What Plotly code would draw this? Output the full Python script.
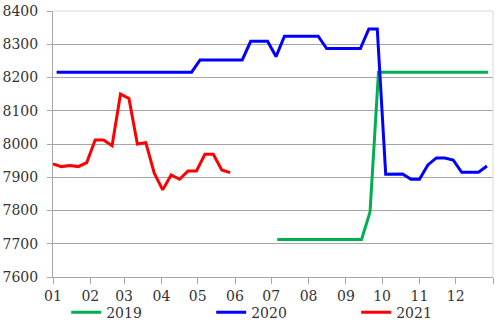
import pandas as pd
import plotly.graph_objects as go

# ---- data (weekly prices) ----
month_labels = ["01", "02", "03", "04", "05", "06", "07", "08", "09", "10", "11", "12"]

start_2019 = "2021-07-06"
values_2019 = [7713, 7713, 7713, 7713, 7713, 7713, 7713, 7713, 7713, 7713, 7713,
               7796, 8216, 8216, 8216, 8216, 8216, 8216, 8216, 8216, 8216, 8216,
               8216, 8216, 8216, 8216]

start_2020 = "2021-01-04"
values_2020 = [8216, 8216, 8216, 8216, 8216, 8216, 8216, 8216, 8216, 8216, 8216,
               8216, 8216, 8216, 8216, 8216, 8216, 8253, 8253, 8253, 8253, 8253,
               8253, 8309, 8309, 8309, 8263, 8324, 8324, 8324, 8324, 8324, 8287,
               8287, 8287, 8287, 8287, 8346, 8346, 7909, 7910, 7910, 7894, 7894,
               7937, 7958, 7958, 7952, 7915, 7915, 7915, 7934]

start_2021 = "2021-01-01"
values_2021 = [7940, 7932, 7935, 7932, 7944, 8012, 8012, 7995, 8150, 8137, 8000,
               8004, 7912, 7862, 7907, 7894, 7919, 7919, 7969, 7969, 7922, 7914]

series = [
    ("2019", start_2019, values_2019, "#00B050"),
    ("2020", start_2020, values_2020, "#0000FF"),
    ("2021", start_2021, values_2021, "#FF0000"),
]

FONT = "DejaVu Serif"
FSIZE = 14
GRID = "#A6A6A6"
FRAME = "#D9D9D9"

fig = go.Figure()
for name, start, vals, color in series:
    dates = pd.date_range(start, periods=len(vals), freq="7D")
    fig.add_trace(go.Scatter(x=dates, y=vals, mode="lines", name=name,
                             line=dict(color=color, width=3)))

tick_dates = list(pd.date_range("2021-01-01", periods=13, freq="MS"))
fig.update_xaxes(
    type="date",
    range=["2021-01-01", "2022-01-01"],
    tickvals=tick_dates,
    ticktext=month_labels + [""],
    showgrid=False,
    showline=True, linecolor=GRID, linewidth=1,
    ticks="outside", ticklen=6, tickcolor=GRID,
    tickfont=dict(family=FONT, size=FSIZE, color="#333333"),
)
fig.update_yaxes(
    range=[7600, 8400],
    dtick=100,
    showgrid=True, gridcolor=GRID, gridwidth=1,
    showline=True, linecolor=GRID, linewidth=1,
    ticks="outside", ticklen=5, tickcolor=GRID,
    ticklabelstandoff=6,
    zeroline=False,
    tickfont=dict(family=FONT, size=FSIZE, color="#333333"),
)

# light frame on top and right
fig.add_shape(type="line", xref="paper", yref="paper", x0=0, x1=1, y0=1, y1=1,
              line=dict(color=FRAME, width=1), layer="above")
fig.add_shape(type="line", xref="paper", yref="paper", x0=1, x1=1, y0=0, y1=1,
              line=dict(color=FRAME, width=1), layer="above")

fig.update_layout(
    width=503, height=331,
    margin=dict(l=53, r=10, t=11, b=54, autoexpand=False),
    paper_bgcolor="white", plot_bgcolor="white",
    font=dict(family=FONT, size=FSIZE, color="#333333"),
    showlegend=True,
    legend=dict(orientation="h", x=0.03, xanchor="left", y=-0.074, yanchor="top",
                entrywidth=100, entrywidthmode="pixels",
                font=dict(family=FONT, size=FSIZE, color="#333333"),
                bgcolor="rgba(0,0,0,0)"),
)

fig.write_html("out.html")
